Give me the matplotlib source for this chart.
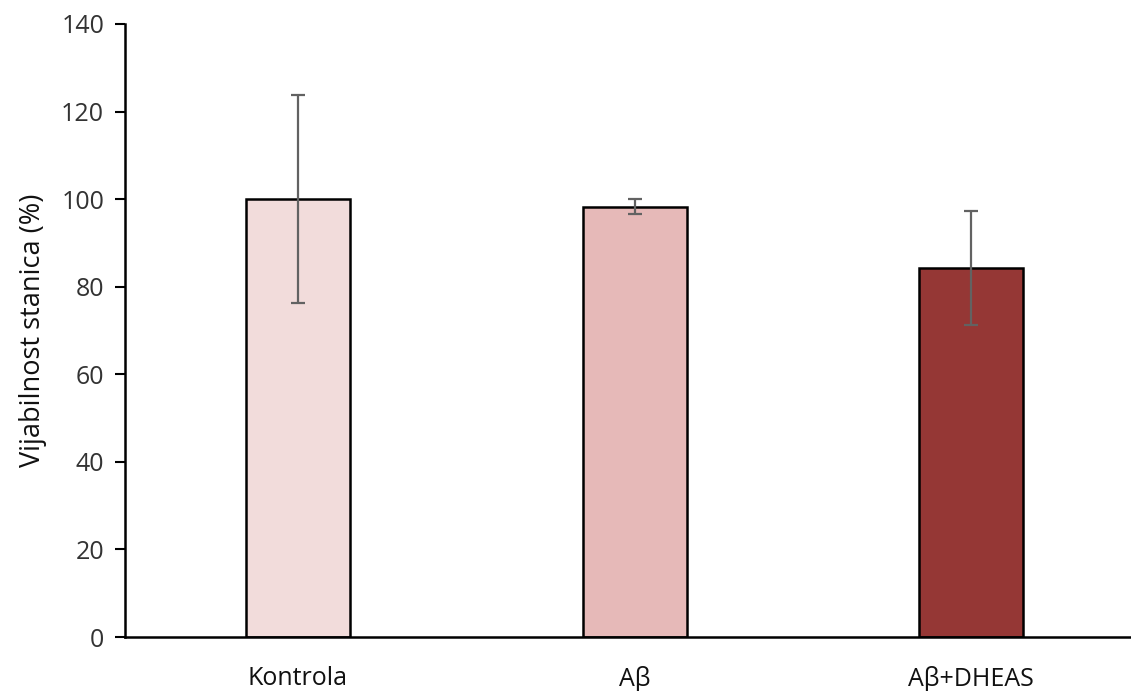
import matplotlib
matplotlib.use("Agg")
import matplotlib.pyplot as plt

categories = ["Kontrola", "Aβ", "Aβ+DHEAS"]
values = [100.0, 98.3, 84.2]
errors = [23.7, 1.8, 13.0]
colors = ["#F2DCDB", "#E6B9B8", "#953735"]
yticks = [0, 20, 40, 60, 80, 100, 120, 140]

plt.rcParams['font.family'] = ['Open Sans', 'DejaVu Sans']

fig = plt.figure(figsize=(11.31, 6.91), dpi=100)
ax = fig.add_axes([0.1105, 0.0781, 0.8895, 0.8872])

x = list(range(len(categories)))
ax.bar(x, values, width=0.309, color=colors, edgecolor="black", linewidth=1.8, zorder=2)
ax.errorbar(x, values, yerr=errors, fmt="none", ecolor="#626262", elinewidth=1.6,
            capsize=5.2, capthick=1.6, zorder=3)

ax.set_xlim(-0.514, 2.475)
ax.set_ylim(0, 140)
ax.set_yticks(yticks)
ax.set_yticklabels([str(t) for t in yticks], fontsize=18, color="#333333")
ax.set_xticks(x)
ax.set_xticklabels(categories, fontsize=18, color="#111111")
ax.tick_params(axis="x", length=0, pad=21)
ax.tick_params(axis="y", length=7, width=1.5, pad=8, direction="out")
ax.spines["top"].set_visible(False)
ax.spines["right"].set_visible(False)
ax.spines["left"].set_linewidth(1.8)
ax.spines["bottom"].set_linewidth(1.8)
ax.set_ylabel("Vijabilnost stanica (%)", fontsize=19.5, color="#111111", labelpad=10)

fig.savefig("out.png", dpi=100)
